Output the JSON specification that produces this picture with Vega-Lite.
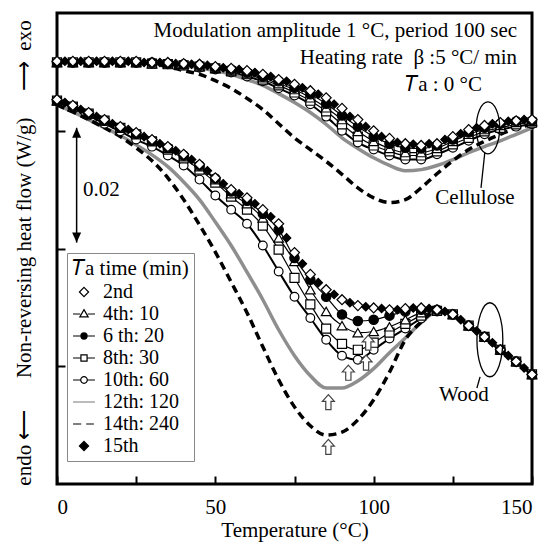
{
"$schema":"https://vega.github.io/schema/vega-lite/v6.json",
"width":475,"height":471,
"autosize":"none",
"padding":{"left":57,"top":13,"right":12,"bottom":60},
"background":"white",
"config":{"font":"Liberation Serif","view":{"stroke":"black","strokeWidth":3},
"style":{"guide-label":{"font":"Liberation Serif"},"guide-title":{"font":"Liberation Serif"}},
"axis":{"grid":false,"domain":false,"tickColor":"black","tickWidth":2,"tickSize":-8,"labelColor":"black","titleColor":"black","labelFontSize":21,"titleFontSize":21,"titleFontWeight":"normal","labelFont":"Liberation Serif","titleFont":"Liberation Serif"},
"legend":{"labelFont":"Liberation Serif, Times New Roman, serif","titleFont":"Liberation Serif, Times New Roman, serif"}},
"resolve":{"scale":{"shape":"independent","fill":"independent","size":"independent","stroke":"independent","strokeWidth":"independent"}},
"datasets":{"curves":[
{"group":"Cellulose","series":"12th: 120","T":0,"flow":0.0716},{"group":"Cellulose","series":"12th: 120","T":5,"flow":0.0716},{"group":"Cellulose","series":"12th: 120","T":10,"flow":0.0716},{"group":"Cellulose","series":"12th: 120","T":15,"flow":0.0716},{"group":"Cellulose","series":"12th: 120","T":20,"flow":0.0716},{"group":"Cellulose","series":"12th: 120","T":25,"flow":0.0716},{"group":"Cellulose","series":"12th: 120","T":30,"flow":0.0714},{"group":"Cellulose","series":"12th: 120","T":35,"flow":0.0713},{"group":"Cellulose","series":"12th: 120","T":40,"flow":0.0711},{"group":"Cellulose","series":"12th: 120","T":45,"flow":0.0707},{"group":"Cellulose","series":"12th: 120","T":50,"flow":0.0702},{"group":"Cellulose","series":"12th: 120","T":55,"flow":0.0696},{"group":"Cellulose","series":"12th: 120","T":60,"flow":0.0687},{"group":"Cellulose","series":"12th: 120","T":65,"flow":0.0677},{"group":"Cellulose","series":"12th: 120","T":70,"flow":0.0663},{"group":"Cellulose","series":"12th: 120","T":75,"flow":0.0648},{"group":"Cellulose","series":"12th: 120","T":80,"flow":0.0631},{"group":"Cellulose","series":"12th: 120","T":85,"flow":0.0611},{"group":"Cellulose","series":"12th: 120","T":90,"flow":0.0588},{"group":"Cellulose","series":"12th: 120","T":95,"flow":0.0570},{"group":"Cellulose","series":"12th: 120","T":100,"flow":0.0554},{"group":"Cellulose","series":"12th: 120","T":105,"flow":0.0541},{"group":"Cellulose","series":"12th: 120","T":110,"flow":0.0532},{"group":"Cellulose","series":"12th: 120","T":115,"flow":0.0534},{"group":"Cellulose","series":"12th: 120","T":120,"flow":0.0541},{"group":"Cellulose","series":"12th: 120","T":125,"flow":0.0551},{"group":"Cellulose","series":"12th: 120","T":130,"flow":0.0563},{"group":"Cellulose","series":"12th: 120","T":135,"flow":0.0573},{"group":"Cellulose","series":"12th: 120","T":140,"flow":0.0583},{"group":"Cellulose","series":"12th: 120","T":145,"flow":0.0594},{"group":"Cellulose","series":"12th: 120","T":150,"flow":0.0605},
{"group":"Wood","series":"12th: 120","T":0,"flow":0.0644},{"group":"Wood","series":"12th: 120","T":5,"flow":0.0632},{"group":"Wood","series":"12th: 120","T":10,"flow":0.0619},{"group":"Wood","series":"12th: 120","T":15,"flow":0.0605},{"group":"Wood","series":"12th: 120","T":20,"flow":0.0592},{"group":"Wood","series":"12th: 120","T":25,"flow":0.0576},{"group":"Wood","series":"12th: 120","T":30,"flow":0.0559},{"group":"Wood","series":"12th: 120","T":35,"flow":0.0539},{"group":"Wood","series":"12th: 120","T":40,"flow":0.0513},{"group":"Wood","series":"12th: 120","T":45,"flow":0.0483},{"group":"Wood","series":"12th: 120","T":50,"flow":0.0445},{"group":"Wood","series":"12th: 120","T":55,"flow":0.0405},{"group":"Wood","series":"12th: 120","T":60,"flow":0.0360},{"group":"Wood","series":"12th: 120","T":65,"flow":0.0313},{"group":"Wood","series":"12th: 120","T":70,"flow":0.0262},{"group":"Wood","series":"12th: 120","T":75,"flow":0.0218},{"group":"Wood","series":"12th: 120","T":80,"flow":0.0184},{"group":"Wood","series":"12th: 120","T":85,"flow":0.0163},{"group":"Wood","series":"12th: 120","T":90,"flow":0.0163},{"group":"Wood","series":"12th: 120","T":95,"flow":0.0175},{"group":"Wood","series":"12th: 120","T":100,"flow":0.0196},{"group":"Wood","series":"12th: 120","T":105,"flow":0.0223},{"group":"Wood","series":"12th: 120","T":110,"flow":0.0248},{"group":"Wood","series":"12th: 120","T":115,"flow":0.0274},{"group":"Wood","series":"12th: 120","T":120,"flow":0.0292},{"group":"Wood","series":"12th: 120","T":125,"flow":0.0288},{"group":"Wood","series":"12th: 120","T":130,"flow":0.0269},{"group":"Wood","series":"12th: 120","T":135,"flow":0.0250},{"group":"Wood","series":"12th: 120","T":140,"flow":0.0228},{"group":"Wood","series":"12th: 120","T":145,"flow":0.0208},{"group":"Wood","series":"12th: 120","T":150,"flow":0.0186},
{"group":"Cellulose","series":"14th: 240","T":0,"flow":0.0716},{"group":"Cellulose","series":"14th: 240","T":5,"flow":0.0716},{"group":"Cellulose","series":"14th: 240","T":10,"flow":0.0716},{"group":"Cellulose","series":"14th: 240","T":15,"flow":0.0716},{"group":"Cellulose","series":"14th: 240","T":20,"flow":0.0716},{"group":"Cellulose","series":"14th: 240","T":25,"flow":0.0714},{"group":"Cellulose","series":"14th: 240","T":30,"flow":0.0713},{"group":"Cellulose","series":"14th: 240","T":35,"flow":0.0709},{"group":"Cellulose","series":"14th: 240","T":40,"flow":0.0702},{"group":"Cellulose","series":"14th: 240","T":45,"flow":0.0696},{"group":"Cellulose","series":"14th: 240","T":50,"flow":0.0685},{"group":"Cellulose","series":"14th: 240","T":55,"flow":0.0672},{"group":"Cellulose","series":"14th: 240","T":60,"flow":0.0655},{"group":"Cellulose","series":"14th: 240","T":65,"flow":0.0636},{"group":"Cellulose","series":"14th: 240","T":70,"flow":0.0612},{"group":"Cellulose","series":"14th: 240","T":75,"flow":0.0588},{"group":"Cellulose","series":"14th: 240","T":80,"flow":0.0568},{"group":"Cellulose","series":"14th: 240","T":85,"flow":0.0548},{"group":"Cellulose","series":"14th: 240","T":90,"flow":0.0526},{"group":"Cellulose","series":"14th: 240","T":95,"flow":0.0503},{"group":"Cellulose","series":"14th: 240","T":100,"flow":0.0486},{"group":"Cellulose","series":"14th: 240","T":105,"flow":0.0478},{"group":"Cellulose","series":"14th: 240","T":110,"flow":0.0483},{"group":"Cellulose","series":"14th: 240","T":115,"flow":0.0503},{"group":"Cellulose","series":"14th: 240","T":120,"flow":0.0527},{"group":"Cellulose","series":"14th: 240","T":125,"flow":0.0549},{"group":"Cellulose","series":"14th: 240","T":130,"flow":0.0568},{"group":"Cellulose","series":"14th: 240","T":135,"flow":0.0582},{"group":"Cellulose","series":"14th: 240","T":140,"flow":0.0594},{"group":"Cellulose","series":"14th: 240","T":145,"flow":0.0604},{"group":"Cellulose","series":"14th: 240","T":150,"flow":0.0611},
{"group":"Wood","series":"14th: 240","T":0,"flow":0.0644},{"group":"Wood","series":"14th: 240","T":5,"flow":0.0632},{"group":"Wood","series":"14th: 240","T":10,"flow":0.0619},{"group":"Wood","series":"14th: 240","T":15,"flow":0.0605},{"group":"Wood","series":"14th: 240","T":20,"flow":0.0590},{"group":"Wood","series":"14th: 240","T":25,"flow":0.0571},{"group":"Wood","series":"14th: 240","T":30,"flow":0.0549},{"group":"Wood","series":"14th: 240","T":35,"flow":0.0520},{"group":"Wood","series":"14th: 240","T":40,"flow":0.0483},{"group":"Wood","series":"14th: 240","T":45,"flow":0.0440},{"group":"Wood","series":"14th: 240","T":50,"flow":0.0394},{"group":"Wood","series":"14th: 240","T":55,"flow":0.0343},{"group":"Wood","series":"14th: 240","T":60,"flow":0.0291},{"group":"Wood","series":"14th: 240","T":65,"flow":0.0233},{"group":"Wood","series":"14th: 240","T":70,"flow":0.0177},{"group":"Wood","series":"14th: 240","T":75,"flow":0.0131},{"group":"Wood","series":"14th: 240","T":80,"flow":0.0099},{"group":"Wood","series":"14th: 240","T":85,"flow":0.0083},{"group":"Wood","series":"14th: 240","T":90,"flow":0.0088},{"group":"Wood","series":"14th: 240","T":95,"flow":0.0109},{"group":"Wood","series":"14th: 240","T":100,"flow":0.0143},{"group":"Wood","series":"14th: 240","T":105,"flow":0.0190},{"group":"Wood","series":"14th: 240","T":110,"flow":0.0245},{"group":"Wood","series":"14th: 240","T":115,"flow":0.0275},{"group":"Wood","series":"14th: 240","T":120,"flow":0.0294},{"group":"Wood","series":"14th: 240","T":125,"flow":0.0288},{"group":"Wood","series":"14th: 240","T":130,"flow":0.0269},{"group":"Wood","series":"14th: 240","T":135,"flow":0.0250},{"group":"Wood","series":"14th: 240","T":140,"flow":0.0228},{"group":"Wood","series":"14th: 240","T":145,"flow":0.0208},{"group":"Wood","series":"14th: 240","T":150,"flow":0.0186},
{"group":"Cellulose","series":"10th: 60","T":0,"flow":0.0716},{"group":"Cellulose","series":"10th: 60","T":5,"flow":0.0716},{"group":"Cellulose","series":"10th: 60","T":10,"flow":0.0716},{"group":"Cellulose","series":"10th: 60","T":15,"flow":0.0716},{"group":"Cellulose","series":"10th: 60","T":20,"flow":0.0716},{"group":"Cellulose","series":"10th: 60","T":25,"flow":0.0716},{"group":"Cellulose","series":"10th: 60","T":30,"flow":0.0714},{"group":"Cellulose","series":"10th: 60","T":35,"flow":0.0713},{"group":"Cellulose","series":"10th: 60","T":40,"flow":0.0711},{"group":"Cellulose","series":"10th: 60","T":45,"flow":0.0707},{"group":"Cellulose","series":"10th: 60","T":50,"flow":0.0704},{"group":"Cellulose","series":"10th: 60","T":55,"flow":0.0699},{"group":"Cellulose","series":"10th: 60","T":60,"flow":0.0692},{"group":"Cellulose","series":"10th: 60","T":65,"flow":0.0684},{"group":"Cellulose","series":"10th: 60","T":70,"flow":0.0672},{"group":"Cellulose","series":"10th: 60","T":75,"flow":0.0660},{"group":"Cellulose","series":"10th: 60","T":80,"flow":0.0645},{"group":"Cellulose","series":"10th: 60","T":85,"flow":0.0624},{"group":"Cellulose","series":"10th: 60","T":90,"flow":0.0600},{"group":"Cellulose","series":"10th: 60","T":95,"flow":0.0580},{"group":"Cellulose","series":"10th: 60","T":100,"flow":0.0568},{"group":"Cellulose","series":"10th: 60","T":105,"flow":0.0558},{"group":"Cellulose","series":"10th: 60","T":110,"flow":0.0551},{"group":"Cellulose","series":"10th: 60","T":115,"flow":0.0551},{"group":"Cellulose","series":"10th: 60","T":120,"flow":0.0560},{"group":"Cellulose","series":"10th: 60","T":125,"flow":0.0571},{"group":"Cellulose","series":"10th: 60","T":130,"flow":0.0583},{"group":"Cellulose","series":"10th: 60","T":135,"flow":0.0594},{"group":"Cellulose","series":"10th: 60","T":140,"flow":0.0602},{"group":"Cellulose","series":"10th: 60","T":145,"flow":0.0607},{"group":"Cellulose","series":"10th: 60","T":150,"flow":0.0611},
{"group":"Wood","series":"10th: 60","T":0,"flow":0.0650},{"group":"Wood","series":"10th: 60","T":5,"flow":0.0639},{"group":"Wood","series":"10th: 60","T":10,"flow":0.0626},{"group":"Wood","series":"10th: 60","T":15,"flow":0.0612},{"group":"Wood","series":"10th: 60","T":20,"flow":0.0599},{"group":"Wood","series":"10th: 60","T":25,"flow":0.0585},{"group":"Wood","series":"10th: 60","T":30,"flow":0.0573},{"group":"Wood","series":"10th: 60","T":35,"flow":0.0558},{"group":"Wood","series":"10th: 60","T":40,"flow":0.0541},{"group":"Wood","series":"10th: 60","T":45,"flow":0.0517},{"group":"Wood","series":"10th: 60","T":50,"flow":0.0490},{"group":"Wood","series":"10th: 60","T":55,"flow":0.0466},{"group":"Wood","series":"10th: 60","T":60,"flow":0.0442},{"group":"Wood","series":"10th: 60","T":65,"flow":0.0405},{"group":"Wood","series":"10th: 60","T":70,"flow":0.0361},{"group":"Wood","series":"10th: 60","T":75,"flow":0.0318},{"group":"Wood","series":"10th: 60","T":80,"flow":0.0282},{"group":"Wood","series":"10th: 60","T":85,"flow":0.0245},{"group":"Wood","series":"10th: 60","T":90,"flow":0.0218},{"group":"Wood","series":"10th: 60","T":95,"flow":0.0211},{"group":"Wood","series":"10th: 60","T":100,"flow":0.0228},{"group":"Wood","series":"10th: 60","T":105,"flow":0.0247},{"group":"Wood","series":"10th: 60","T":110,"flow":0.0264},{"group":"Wood","series":"10th: 60","T":115,"flow":0.0281},{"group":"Wood","series":"10th: 60","T":120,"flow":0.0293},{"group":"Wood","series":"10th: 60","T":125,"flow":0.0288},{"group":"Wood","series":"10th: 60","T":130,"flow":0.0269},{"group":"Wood","series":"10th: 60","T":135,"flow":0.0250},{"group":"Wood","series":"10th: 60","T":140,"flow":0.0228},{"group":"Wood","series":"10th: 60","T":145,"flow":0.0208},{"group":"Wood","series":"10th: 60","T":150,"flow":0.0186},
{"group":"Cellulose","series":"8th: 30","T":0,"flow":0.0716},{"group":"Cellulose","series":"8th: 30","T":5,"flow":0.0716},{"group":"Cellulose","series":"8th: 30","T":10,"flow":0.0716},{"group":"Cellulose","series":"8th: 30","T":15,"flow":0.0716},{"group":"Cellulose","series":"8th: 30","T":20,"flow":0.0716},{"group":"Cellulose","series":"8th: 30","T":25,"flow":0.0716},{"group":"Cellulose","series":"8th: 30","T":30,"flow":0.0714},{"group":"Cellulose","series":"8th: 30","T":35,"flow":0.0713},{"group":"Cellulose","series":"8th: 30","T":40,"flow":0.0711},{"group":"Cellulose","series":"8th: 30","T":45,"flow":0.0709},{"group":"Cellulose","series":"8th: 30","T":50,"flow":0.0706},{"group":"Cellulose","series":"8th: 30","T":55,"flow":0.0701},{"group":"Cellulose","series":"8th: 30","T":60,"flow":0.0696},{"group":"Cellulose","series":"8th: 30","T":65,"flow":0.0687},{"group":"Cellulose","series":"8th: 30","T":70,"flow":0.0677},{"group":"Cellulose","series":"8th: 30","T":75,"flow":0.0665},{"group":"Cellulose","series":"8th: 30","T":80,"flow":0.0651},{"group":"Cellulose","series":"8th: 30","T":85,"flow":0.0633},{"group":"Cellulose","series":"8th: 30","T":90,"flow":0.0611},{"group":"Cellulose","series":"8th: 30","T":95,"flow":0.0590},{"group":"Cellulose","series":"8th: 30","T":100,"flow":0.0575},{"group":"Cellulose","series":"8th: 30","T":105,"flow":0.0565},{"group":"Cellulose","series":"8th: 30","T":110,"flow":0.0558},{"group":"Cellulose","series":"8th: 30","T":115,"flow":0.0558},{"group":"Cellulose","series":"8th: 30","T":120,"flow":0.0565},{"group":"Cellulose","series":"8th: 30","T":125,"flow":0.0577},{"group":"Cellulose","series":"8th: 30","T":130,"flow":0.0588},{"group":"Cellulose","series":"8th: 30","T":135,"flow":0.0599},{"group":"Cellulose","series":"8th: 30","T":140,"flow":0.0605},{"group":"Cellulose","series":"8th: 30","T":145,"flow":0.0611},{"group":"Cellulose","series":"8th: 30","T":150,"flow":0.0614},
{"group":"Wood","series":"8th: 30","T":0,"flow":0.0651},{"group":"Wood","series":"8th: 30","T":5,"flow":0.0641},{"group":"Wood","series":"8th: 30","T":10,"flow":0.0629},{"group":"Wood","series":"8th: 30","T":15,"flow":0.0617},{"group":"Wood","series":"8th: 30","T":20,"flow":0.0605},{"group":"Wood","series":"8th: 30","T":25,"flow":0.0594},{"group":"Wood","series":"8th: 30","T":30,"flow":0.0582},{"group":"Wood","series":"8th: 30","T":35,"flow":0.0568},{"group":"Wood","series":"8th: 30","T":40,"flow":0.0553},{"group":"Wood","series":"8th: 30","T":45,"flow":0.0534},{"group":"Wood","series":"8th: 30","T":50,"flow":0.0512},{"group":"Wood","series":"8th: 30","T":55,"flow":0.0488},{"group":"Wood","series":"8th: 30","T":60,"flow":0.0466},{"group":"Wood","series":"8th: 30","T":65,"flow":0.0439},{"group":"Wood","series":"8th: 30","T":70,"flow":0.0398},{"group":"Wood","series":"8th: 30","T":75,"flow":0.0350},{"group":"Wood","series":"8th: 30","T":80,"flow":0.0305},{"group":"Wood","series":"8th: 30","T":85,"flow":0.0264},{"group":"Wood","series":"8th: 30","T":90,"flow":0.0238},{"group":"Wood","series":"8th: 30","T":95,"flow":0.0228},{"group":"Wood","series":"8th: 30","T":100,"flow":0.0240},{"group":"Wood","series":"8th: 30","T":105,"flow":0.0257},{"group":"Wood","series":"8th: 30","T":110,"flow":0.0272},{"group":"Wood","series":"8th: 30","T":115,"flow":0.0286},{"group":"Wood","series":"8th: 30","T":120,"flow":0.0294},{"group":"Wood","series":"8th: 30","T":125,"flow":0.0288},{"group":"Wood","series":"8th: 30","T":130,"flow":0.0269},{"group":"Wood","series":"8th: 30","T":135,"flow":0.0250},{"group":"Wood","series":"8th: 30","T":140,"flow":0.0228},{"group":"Wood","series":"8th: 30","T":145,"flow":0.0208},{"group":"Wood","series":"8th: 30","T":150,"flow":0.0186},
{"group":"Cellulose","series":"4th: 10","T":0,"flow":0.0716},{"group":"Cellulose","series":"4th: 10","T":5,"flow":0.0716},{"group":"Cellulose","series":"4th: 10","T":10,"flow":0.0716},{"group":"Cellulose","series":"4th: 10","T":15,"flow":0.0716},{"group":"Cellulose","series":"4th: 10","T":20,"flow":0.0716},{"group":"Cellulose","series":"4th: 10","T":25,"flow":0.0716},{"group":"Cellulose","series":"4th: 10","T":30,"flow":0.0714},{"group":"Cellulose","series":"4th: 10","T":35,"flow":0.0714},{"group":"Cellulose","series":"4th: 10","T":40,"flow":0.0713},{"group":"Cellulose","series":"4th: 10","T":45,"flow":0.0709},{"group":"Cellulose","series":"4th: 10","T":50,"flow":0.0706},{"group":"Cellulose","series":"4th: 10","T":55,"flow":0.0702},{"group":"Cellulose","series":"4th: 10","T":60,"flow":0.0697},{"group":"Cellulose","series":"4th: 10","T":65,"flow":0.0690},{"group":"Cellulose","series":"4th: 10","T":70,"flow":0.0680},{"group":"Cellulose","series":"4th: 10","T":75,"flow":0.0670},{"group":"Cellulose","series":"4th: 10","T":80,"flow":0.0656},{"group":"Cellulose","series":"4th: 10","T":85,"flow":0.0639},{"group":"Cellulose","series":"4th: 10","T":90,"flow":0.0619},{"group":"Cellulose","series":"4th: 10","T":95,"flow":0.0599},{"group":"Cellulose","series":"4th: 10","T":100,"flow":0.0582},{"group":"Cellulose","series":"4th: 10","T":105,"flow":0.0570},{"group":"Cellulose","series":"4th: 10","T":110,"flow":0.0563},{"group":"Cellulose","series":"4th: 10","T":115,"flow":0.0563},{"group":"Cellulose","series":"4th: 10","T":120,"flow":0.0570},{"group":"Cellulose","series":"4th: 10","T":125,"flow":0.0582},{"group":"Cellulose","series":"4th: 10","T":130,"flow":0.0594},{"group":"Cellulose","series":"4th: 10","T":135,"flow":0.0602},{"group":"Cellulose","series":"4th: 10","T":140,"flow":0.0609},{"group":"Cellulose","series":"4th: 10","T":145,"flow":0.0614},{"group":"Cellulose","series":"4th: 10","T":150,"flow":0.0616},
{"group":"Wood","series":"4th: 10","T":0,"flow":0.0651},{"group":"Wood","series":"4th: 10","T":5,"flow":0.0641},{"group":"Wood","series":"4th: 10","T":10,"flow":0.0629},{"group":"Wood","series":"4th: 10","T":15,"flow":0.0617},{"group":"Wood","series":"4th: 10","T":20,"flow":0.0605},{"group":"Wood","series":"4th: 10","T":25,"flow":0.0595},{"group":"Wood","series":"4th: 10","T":30,"flow":0.0583},{"group":"Wood","series":"4th: 10","T":35,"flow":0.0570},{"group":"Wood","series":"4th: 10","T":40,"flow":0.0556},{"group":"Wood","series":"4th: 10","T":45,"flow":0.0539},{"group":"Wood","series":"4th: 10","T":50,"flow":0.0517},{"group":"Wood","series":"4th: 10","T":55,"flow":0.0493},{"group":"Wood","series":"4th: 10","T":60,"flow":0.0476},{"group":"Wood","series":"4th: 10","T":65,"flow":0.0452},{"group":"Wood","series":"4th: 10","T":70,"flow":0.0418},{"group":"Wood","series":"4th: 10","T":75,"flow":0.0378},{"group":"Wood","series":"4th: 10","T":80,"flow":0.0330},{"group":"Wood","series":"4th: 10","T":85,"flow":0.0293},{"group":"Wood","series":"4th: 10","T":90,"flow":0.0269},{"group":"Wood","series":"4th: 10","T":95,"flow":0.0257},{"group":"Wood","series":"4th: 10","T":100,"flow":0.0259},{"group":"Wood","series":"4th: 10","T":105,"flow":0.0267},{"group":"Wood","series":"4th: 10","T":110,"flow":0.0279},{"group":"Wood","series":"4th: 10","T":115,"flow":0.0291},{"group":"Wood","series":"4th: 10","T":120,"flow":0.0296},{"group":"Wood","series":"4th: 10","T":125,"flow":0.0288},{"group":"Wood","series":"4th: 10","T":130,"flow":0.0269},{"group":"Wood","series":"4th: 10","T":135,"flow":0.0250},{"group":"Wood","series":"4th: 10","T":140,"flow":0.0228},{"group":"Wood","series":"4th: 10","T":145,"flow":0.0208},{"group":"Wood","series":"4th: 10","T":150,"flow":0.0186},
{"group":"Cellulose","series":"6 th: 20","T":0,"flow":0.0716},{"group":"Cellulose","series":"6 th: 20","T":5,"flow":0.0716},{"group":"Cellulose","series":"6 th: 20","T":10,"flow":0.0716},{"group":"Cellulose","series":"6 th: 20","T":15,"flow":0.0716},{"group":"Cellulose","series":"6 th: 20","T":20,"flow":0.0716},{"group":"Cellulose","series":"6 th: 20","T":25,"flow":0.0716},{"group":"Cellulose","series":"6 th: 20","T":30,"flow":0.0716},{"group":"Cellulose","series":"6 th: 20","T":35,"flow":0.0714},{"group":"Cellulose","series":"6 th: 20","T":40,"flow":0.0713},{"group":"Cellulose","series":"6 th: 20","T":45,"flow":0.0711},{"group":"Cellulose","series":"6 th: 20","T":50,"flow":0.0707},{"group":"Cellulose","series":"6 th: 20","T":55,"flow":0.0704},{"group":"Cellulose","series":"6 th: 20","T":60,"flow":0.0699},{"group":"Cellulose","series":"6 th: 20","T":65,"flow":0.0692},{"group":"Cellulose","series":"6 th: 20","T":70,"flow":0.0684},{"group":"Cellulose","series":"6 th: 20","T":75,"flow":0.0673},{"group":"Cellulose","series":"6 th: 20","T":80,"flow":0.0662},{"group":"Cellulose","series":"6 th: 20","T":85,"flow":0.0646},{"group":"Cellulose","series":"6 th: 20","T":90,"flow":0.0626},{"group":"Cellulose","series":"6 th: 20","T":95,"flow":0.0607},{"group":"Cellulose","series":"6 th: 20","T":100,"flow":0.0590},{"group":"Cellulose","series":"6 th: 20","T":105,"flow":0.0578},{"group":"Cellulose","series":"6 th: 20","T":110,"flow":0.0571},{"group":"Cellulose","series":"6 th: 20","T":115,"flow":0.0570},{"group":"Cellulose","series":"6 th: 20","T":120,"flow":0.0575},{"group":"Cellulose","series":"6 th: 20","T":125,"flow":0.0585},{"group":"Cellulose","series":"6 th: 20","T":130,"flow":0.0597},{"group":"Cellulose","series":"6 th: 20","T":135,"flow":0.0605},{"group":"Cellulose","series":"6 th: 20","T":140,"flow":0.0612},{"group":"Cellulose","series":"6 th: 20","T":145,"flow":0.0616},{"group":"Cellulose","series":"6 th: 20","T":150,"flow":0.0617},
{"group":"Wood","series":"6 th: 20","T":0,"flow":0.0651},{"group":"Wood","series":"6 th: 20","T":5,"flow":0.0641},{"group":"Wood","series":"6 th: 20","T":10,"flow":0.0629},{"group":"Wood","series":"6 th: 20","T":15,"flow":0.0617},{"group":"Wood","series":"6 th: 20","T":20,"flow":0.0605},{"group":"Wood","series":"6 th: 20","T":25,"flow":0.0595},{"group":"Wood","series":"6 th: 20","T":30,"flow":0.0583},{"group":"Wood","series":"6 th: 20","T":35,"flow":0.0571},{"group":"Wood","series":"6 th: 20","T":40,"flow":0.0558},{"group":"Wood","series":"6 th: 20","T":45,"flow":0.0541},{"group":"Wood","series":"6 th: 20","T":50,"flow":0.0519},{"group":"Wood","series":"6 th: 20","T":55,"flow":0.0497},{"group":"Wood","series":"6 th: 20","T":60,"flow":0.0481},{"group":"Wood","series":"6 th: 20","T":65,"flow":0.0459},{"group":"Wood","series":"6 th: 20","T":70,"flow":0.0432},{"group":"Wood","series":"6 th: 20","T":75,"flow":0.0384},{"group":"Wood","series":"6 th: 20","T":80,"flow":0.0347},{"group":"Wood","series":"6 th: 20","T":85,"flow":0.0318},{"group":"Wood","series":"6 th: 20","T":90,"flow":0.0288},{"group":"Wood","series":"6 th: 20","T":95,"flow":0.0277},{"group":"Wood","series":"6 th: 20","T":100,"flow":0.0279},{"group":"Wood","series":"6 th: 20","T":105,"flow":0.0286},{"group":"Wood","series":"6 th: 20","T":110,"flow":0.0293},{"group":"Wood","series":"6 th: 20","T":115,"flow":0.0296},{"group":"Wood","series":"6 th: 20","T":120,"flow":0.0296},{"group":"Wood","series":"6 th: 20","T":125,"flow":0.0288},{"group":"Wood","series":"6 th: 20","T":130,"flow":0.0269},{"group":"Wood","series":"6 th: 20","T":135,"flow":0.0250},{"group":"Wood","series":"6 th: 20","T":140,"flow":0.0228},{"group":"Wood","series":"6 th: 20","T":145,"flow":0.0208},{"group":"Wood","series":"6 th: 20","T":150,"flow":0.0186},
{"group":"Cellulose","series":"2nd","T":0,"flow":0.0718},{"group":"Cellulose","series":"2nd","T":5,"flow":0.0718},{"group":"Cellulose","series":"2nd","T":10,"flow":0.0718},{"group":"Cellulose","series":"2nd","T":15,"flow":0.0718},{"group":"Cellulose","series":"2nd","T":20,"flow":0.0718},{"group":"Cellulose","series":"2nd","T":25,"flow":0.0718},{"group":"Cellulose","series":"2nd","T":30,"flow":0.0716},{"group":"Cellulose","series":"2nd","T":35,"flow":0.0716},{"group":"Cellulose","series":"2nd","T":40,"flow":0.0714},{"group":"Cellulose","series":"2nd","T":45,"flow":0.0713},{"group":"Cellulose","series":"2nd","T":50,"flow":0.0709},{"group":"Cellulose","series":"2nd","T":55,"flow":0.0706},{"group":"Cellulose","series":"2nd","T":60,"flow":0.0702},{"group":"Cellulose","series":"2nd","T":65,"flow":0.0696},{"group":"Cellulose","series":"2nd","T":70,"flow":0.0687},{"group":"Cellulose","series":"2nd","T":75,"flow":0.0679},{"group":"Cellulose","series":"2nd","T":80,"flow":0.0668},{"group":"Cellulose","series":"2nd","T":85,"flow":0.0656},{"group":"Cellulose","series":"2nd","T":90,"flow":0.0638},{"group":"Cellulose","series":"2nd","T":95,"flow":0.0619},{"group":"Cellulose","series":"2nd","T":100,"flow":0.0600},{"group":"Cellulose","series":"2nd","T":105,"flow":0.0587},{"group":"Cellulose","series":"2nd","T":110,"flow":0.0578},{"group":"Cellulose","series":"2nd","T":115,"flow":0.0575},{"group":"Cellulose","series":"2nd","T":120,"flow":0.0578},{"group":"Cellulose","series":"2nd","T":125,"flow":0.0590},{"group":"Cellulose","series":"2nd","T":130,"flow":0.0602},{"group":"Cellulose","series":"2nd","T":135,"flow":0.0609},{"group":"Cellulose","series":"2nd","T":140,"flow":0.0614},{"group":"Cellulose","series":"2nd","T":145,"flow":0.0617},{"group":"Cellulose","series":"2nd","T":150,"flow":0.0619},
{"group":"Wood","series":"2nd","T":0,"flow":0.0653},{"group":"Wood","series":"2nd","T":5,"flow":0.0643},{"group":"Wood","series":"2nd","T":10,"flow":0.0631},{"group":"Wood","series":"2nd","T":15,"flow":0.0619},{"group":"Wood","series":"2nd","T":20,"flow":0.0607},{"group":"Wood","series":"2nd","T":25,"flow":0.0597},{"group":"Wood","series":"2nd","T":30,"flow":0.0585},{"group":"Wood","series":"2nd","T":35,"flow":0.0573},{"group":"Wood","series":"2nd","T":40,"flow":0.0560},{"group":"Wood","series":"2nd","T":45,"flow":0.0543},{"group":"Wood","series":"2nd","T":50,"flow":0.0520},{"group":"Wood","series":"2nd","T":55,"flow":0.0500},{"group":"Wood","series":"2nd","T":60,"flow":0.0486},{"group":"Wood","series":"2nd","T":65,"flow":0.0466},{"group":"Wood","series":"2nd","T":70,"flow":0.0442},{"group":"Wood","series":"2nd","T":75,"flow":0.0393},{"group":"Wood","series":"2nd","T":80,"flow":0.0356},{"group":"Wood","series":"2nd","T":85,"flow":0.0330},{"group":"Wood","series":"2nd","T":90,"flow":0.0313},{"group":"Wood","series":"2nd","T":95,"flow":0.0303},{"group":"Wood","series":"2nd","T":100,"flow":0.0299},{"group":"Wood","series":"2nd","T":105,"flow":0.0296},{"group":"Wood","series":"2nd","T":110,"flow":0.0298},{"group":"Wood","series":"2nd","T":115,"flow":0.0299},{"group":"Wood","series":"2nd","T":120,"flow":0.0296},{"group":"Wood","series":"2nd","T":125,"flow":0.0288},{"group":"Wood","series":"2nd","T":130,"flow":0.0269},{"group":"Wood","series":"2nd","T":135,"flow":0.0250},{"group":"Wood","series":"2nd","T":140,"flow":0.0228},{"group":"Wood","series":"2nd","T":145,"flow":0.0208},{"group":"Wood","series":"2nd","T":150,"flow":0.0186},
{"group":"Cellulose","series":"15th","T":2.5,"flow":0.0718},{"group":"Cellulose","series":"15th","T":7.5,"flow":0.0718},{"group":"Cellulose","series":"15th","T":12.5,"flow":0.0718},{"group":"Cellulose","series":"15th","T":17.5,"flow":0.0718},{"group":"Cellulose","series":"15th","T":22.5,"flow":0.0718},{"group":"Cellulose","series":"15th","T":27.5,"flow":0.0716},{"group":"Cellulose","series":"15th","T":32.5,"flow":0.0716},{"group":"Cellulose","series":"15th","T":37.5,"flow":0.0714},{"group":"Cellulose","series":"15th","T":42.5,"flow":0.0713},{"group":"Cellulose","series":"15th","T":47.5,"flow":0.0711},{"group":"Cellulose","series":"15th","T":52.5,"flow":0.0707},{"group":"Cellulose","series":"15th","T":57.5,"flow":0.0704},{"group":"Cellulose","series":"15th","T":62.5,"flow":0.0699},{"group":"Cellulose","series":"15th","T":67.5,"flow":0.0692},{"group":"Cellulose","series":"15th","T":72.5,"flow":0.0684},{"group":"Cellulose","series":"15th","T":77.5,"flow":0.0673},{"group":"Cellulose","series":"15th","T":82.5,"flow":0.0662},{"group":"Cellulose","series":"15th","T":87.5,"flow":0.0645},{"group":"Cellulose","series":"15th","T":92.5,"flow":0.0624},{"group":"Cellulose","series":"15th","T":97.5,"flow":0.0607},{"group":"Cellulose","series":"15th","T":102.5,"flow":0.0590},{"group":"Cellulose","series":"15th","T":107.5,"flow":0.0580},{"group":"Cellulose","series":"15th","T":112.5,"flow":0.0577},{"group":"Cellulose","series":"15th","T":117.5,"flow":0.0578},{"group":"Cellulose","series":"15th","T":122.5,"flow":0.0585},{"group":"Cellulose","series":"15th","T":127.5,"flow":0.0595},{"group":"Cellulose","series":"15th","T":132.5,"flow":0.0605},{"group":"Cellulose","series":"15th","T":137.5,"flow":0.0612},{"group":"Cellulose","series":"15th","T":142.5,"flow":0.0616},{"group":"Cellulose","series":"15th","T":147.5,"flow":0.0619},
{"group":"Wood","series":"15th","T":2.5,"flow":0.0648},{"group":"Wood","series":"15th","T":7.5,"flow":0.0636},{"group":"Wood","series":"15th","T":12.5,"flow":0.0624},{"group":"Wood","series":"15th","T":17.5,"flow":0.0612},{"group":"Wood","series":"15th","T":22.5,"flow":0.0602},{"group":"Wood","series":"15th","T":27.5,"flow":0.0590},{"group":"Wood","series":"15th","T":32.5,"flow":0.0578},{"group":"Wood","series":"15th","T":37.5,"flow":0.0566},{"group":"Wood","series":"15th","T":42.5,"flow":0.0551},{"group":"Wood","series":"15th","T":47.5,"flow":0.0532},{"group":"Wood","series":"15th","T":52.5,"flow":0.0510},{"group":"Wood","series":"15th","T":57.5,"flow":0.0493},{"group":"Wood","series":"15th","T":62.5,"flow":0.0476},{"group":"Wood","series":"15th","T":67.5,"flow":0.0454},{"group":"Wood","series":"15th","T":72.5,"flow":0.0418},{"group":"Wood","series":"15th","T":77.5,"flow":0.0374},{"group":"Wood","series":"15th","T":82.5,"flow":0.0342},{"group":"Wood","series":"15th","T":87.5,"flow":0.0322},{"group":"Wood","series":"15th","T":92.5,"flow":0.0308},{"group":"Wood","series":"15th","T":97.5,"flow":0.0301},{"group":"Wood","series":"15th","T":102.5,"flow":0.0298},{"group":"Wood","series":"15th","T":107.5,"flow":0.0296},{"group":"Wood","series":"15th","T":112.5,"flow":0.0299},{"group":"Wood","series":"15th","T":117.5,"flow":0.0298},{"group":"Wood","series":"15th","T":122.5,"flow":0.0293},{"group":"Wood","series":"15th","T":127.5,"flow":0.0279},{"group":"Wood","series":"15th","T":132.5,"flow":0.0260},{"group":"Wood","series":"15th","T":137.5,"flow":0.0240},{"group":"Wood","series":"15th","T":142.5,"flow":0.0218},{"group":"Wood","series":"15th","T":147.5,"flow":0.0197}
]},
"layer":[
{"data":{"name":"curves"},"transform":[{"filter":{"field":"series","oneOf":["4th: 10","6 th: 20","8th: 30"]}}],
 "mark":{"type":"line","interpolate":"monotone","color":"black","strokeWidth":1.2},
 "encoding":{
  "x":{"field":"T","type":"quantitative","scale":{"domain":[0,150],"nice":false,"zero":false},
   "axis":{"values":[0,25,50,75,100,125,150],"labelExpr":"datum.value % 50 === 0 ? datum.label : ''","labelPadding":20,"title":"Temperature (°C)","titleY":46,"titleBaseline":"middle"}},
  "y":{"field":"flow","type":"quantitative","scale":{"domain":[0,0.08],"nice":false,"zero":false},
   "axis":{"values":[0.02,0.04,0.06],"labels":false,"title":"endo\u00a0⟵\u2003\u2002Non-reversing heat flow (W/g)\u2003\u00a0⟶\u00a0\u00a0exo","titleX":-33,"titleY":239.5,"titleBaseline":"middle"}},
  "detail":[{"field":"group"},{"field":"series"}]}},
{"data":{"name":"curves"},"transform":[{"filter":{"field":"series","equal":"10th: 60"}}],
 "mark":{"type":"line","interpolate":"monotone","color":"black","strokeWidth":2},
 "encoding":{"x":{"field":"T","type":"quantitative"},"y":{"field":"flow","type":"quantitative"},"detail":{"field":"group"}}},
{"data":{"name":"curves"},"transform":[{"filter":{"field":"series","equal":"12th: 120"}}],
 "mark":{"type":"line","interpolate":"monotone","color":"#8e8e8e","strokeWidth":3.5},
 "encoding":{"x":{"field":"T","type":"quantitative"},"y":{"field":"flow","type":"quantitative"},"detail":{"field":"group"}}},
{"data":{"name":"curves"},"transform":[{"filter":{"field":"series","equal":"14th: 240"}}],
 "mark":{"type":"line","interpolate":"monotone","color":"black","strokeWidth":3.5,"strokeDash":[8,5]},
 "encoding":{"x":{"field":"T","type":"quantitative"},"y":{"field":"flow","type":"quantitative"},"detail":{"field":"group"}}},
{"data":{"name":"curves"},"transform":[{"filter":{"field":"series","oneOf":["2nd","4th: 10","6 th: 20","8th: 30","10th: 60","15th"]}}],
 "mark":{"type":"point","stroke":"black","strokeWidth":1.2,"opacity":1},
 "encoding":{"x":{"field":"T","type":"quantitative"},"y":{"field":"flow","type":"quantitative"},
  "shape":{"field":"series","type":"nominal","scale":{"domain":["2nd","4th: 10","6 th: 20","8th: 30","10th: 60","15th"],"range":["diamond","triangle-up","circle","square","circle","diamond"]},"legend":null},
  "fill":{"field":"series","type":"nominal","scale":{"domain":["2nd","4th: 10","6 th: 20","8th: 30","10th: 60","15th"],"range":["white","white","black","white","white","black"]},"legend":null},
  "size":{"field":"series","type":"nominal","scale":{"domain":["2nd","4th: 10","6 th: 20","8th: 30","10th: 60","15th"],"range":[100,70,50,45,50,100]},"legend":null}}},
{"data":{"name":"curves"},"transform":[{"filter":{"field":"series","equal":"none"}}],
 "mark":{"type":"point","opacity":1},
 "encoding":{"x":{"field":"T","type":"quantitative"},"y":{"field":"flow","type":"quantitative"},
  "shape":{"field":"series","type":"nominal","scale":{"domain":["2nd","4th: 10","6 th: 20","8th: 30","10th: 60","12th: 120","14th: 240","15th"],"range":["M0,-0.42L0.42,0L0,0.42L-0.42,0Z","M-1,0L-0.34,0M0.34,0L1,0M0,-0.4L0.38,0.26L-0.38,0.26Z","M-1,0L1,0M0.28,0A0.28,0.28,0,1,1,-0.28,0A0.28,0.28,0,1,1,0.28,0Z","M-1,0L-0.28,0M0.28,0L1,0M-0.28,-0.28L0.28,-0.28L0.28,0.28L-0.28,0.28Z","M-1,0L-0.3,0M0.3,0L1,0M0.3,0A0.3,0.3,0,1,1,-0.3,0A0.3,0.3,0,1,1,0.3,0Z","M-1,0L1,0","M-1,0L-0.25,0M0.2,0L0.9,0","M0,-0.42L0.42,0L0,0.42L-0.42,0Z"]},
   "legend":{"orient":"none","legendX":10,"legendY":240,"title":"𝑇a time (min)","titleFont":"Liberation Serif, Times New Roman, serif","labelFont":"Liberation Serif, Times New Roman, serif","titleFontSize":21,"titleFontWeight":"normal","titleColor":"black","labelFontSize":20,"labelColor":"black","symbolSize":480,"padding":5,"rowPadding":0,"labelOffset":7,"titlePadding":1,"strokeColor":"#888","fillColor":"white","symbolOpacity":1,
    "encode":{"labels":{"font":{"value":"Liberation Serif, Times New Roman, serif"}},"title":{"font":{"value":"Liberation Serif, Times New Roman, serif"}}}}},
  "fill":{"field":"series","type":"nominal","scale":{"domain":["2nd","4th: 10","6 th: 20","8th: 30","10th: 60","12th: 120","14th: 240","15th"],"range":["white","white","black","white","white","transparent","transparent","black"]}},
  "stroke":{"field":"series","type":"nominal","scale":{"domain":["2nd","4th: 10","6 th: 20","8th: 30","10th: 60","12th: 120","14th: 240","15th"],"range":["black","black","black","black","black","#8e8e8e","black","black"]}},
  "strokeWidth":{"field":"series","type":"nominal","scale":{"domain":["2nd","4th: 10","6 th: 20","8th: 30","10th: 60","12th: 120","14th: 240","15th"],"range":[1.2,1.2,1.5,1.2,2,3.5,3.5,1.2]}}}},
{"data":{"values":[{"T":145.3,"flow":0.0770,"text":"Modulation amplitude 1 °C, period 100 sec"},{"T":145.3,"flow":0.0724,"text":"Heating rate\u00a0\u00a0β :5 °C/ min"},{"T":134.2,"flow":0.0677,"text":"𝑇a : 0 °C"}]},
 "mark":{"type":"text","align":"right","baseline":"middle","fontSize":21,"color":"black"},
 "encoding":{"x":{"field":"T","type":"quantitative"},"y":{"field":"flow","type":"quantitative"},"text":{"field":"text"}}},
{"data":{"values":[{"T":132.0,"flow":0.0485,"text":"Cellulose"},{"T":128.5,"flow":0.0152,"text":"Wood"}]},
 "mark":{"type":"text","align":"center","baseline":"middle","fontSize":21,"color":"black"},
 "encoding":{"x":{"field":"T","type":"quantitative"},"y":{"field":"flow","type":"quantitative"},"text":{"field":"text"}}},
{"data":{"values":[{"T":8.2,"flow":0.0500,"text":"0.02"}]},
 "mark":{"type":"text","align":"left","baseline":"middle","fontSize":21,"color":"black"},
 "encoding":{"x":{"field":"T","type":"quantitative"},"y":{"field":"flow","type":"quantitative"},"text":{"field":"text"}}},
{"data":{"values":[{"T":6.2,"flow":0.0605,"flow2":0.0410}]},
 "mark":{"type":"rule","color":"black","strokeWidth":1.5},
 "encoding":{"x":{"field":"T","type":"quantitative"},"y":{"field":"flow","type":"quantitative"},"y2":{"field":"flow2"}}},
{"data":{"values":[{"T":6.2,"flow":0.0605,"flow2":0.0410}]},
 "mark":{"type":"point","shape":"M0,0L0.45,1L-0.45,1Z","filled":true,"color":"black","size":400,"opacity":1},
 "encoding":{"x":{"field":"T","type":"quantitative"},"y":{"field":"flow","type":"quantitative"}}},
{"data":{"values":[{"T":6.2,"flow":0.0605,"flow2":0.0410}]},
 "mark":{"type":"point","shape":"M0,0L0.45,-1L-0.45,-1Z","filled":true,"color":"black","size":400,"opacity":1},
 "encoding":{"x":{"field":"T","type":"quantitative"},"y":{"field":"flow2","type":"quantitative"}}},
{"data":{"values":[{"T":135.1,"flow":0.0563,"T2":133.9,"flow2":0.0503},{"T":133.6,"flow":0.0182,"T2":132.6,"flow2":0.0163}]},
 "mark":{"type":"rule","color":"black","strokeWidth":1.3},
 "encoding":{"x":{"field":"T","type":"quantitative"},"y":{"field":"flow","type":"quantitative"},"x2":{"field":"T2"},"y2":{"field":"flow2"}}},
{"data":{"values":[{"T":136.1,"flow":0.0605}]},
 "mark":{"type":"point","shape":"M0,-1A0.45,1,0,0,1,0,1A0.45,1,0,0,1,0,-1","filled":false,"stroke":"black","strokeWidth":1.3,"size":2704,"opacity":1},
 "encoding":{"x":{"field":"T","type":"quantitative"},"y":{"field":"flow","type":"quantitative"}}},
{"data":{"values":[{"T":136.7,"flow":0.0245}]},
 "mark":{"type":"point","shape":"M0,-1A0.35,1,0,0,1,0,1A0.35,1,0,0,1,0,-1","filled":false,"stroke":"black","strokeWidth":1.3,"size":5476,"opacity":1},
 "encoding":{"x":{"field":"T","type":"quantitative"},"y":{"field":"flow","type":"quantitative"}}},
{"data":{"values":[{"T":85.7,"flow":0.0139},{"T":85.7,"flow":0.0063},{"T":92.0,"flow":0.0189},{"T":97.6,"flow":0.0206},{"T":98.3,"flow":0.0240}]},
 "mark":{"type":"point","shape":"M0,-1L0.8,-0.1L0.35,-0.1L0.35,1L-0.35,1L-0.35,-0.1L-0.8,-0.1Z","fill":"white","stroke":"#444","strokeWidth":1.2,"size":225,"opacity":1},
 "encoding":{"x":{"field":"T","type":"quantitative"},"y":{"field":"flow","type":"quantitative"}}}
]
}
